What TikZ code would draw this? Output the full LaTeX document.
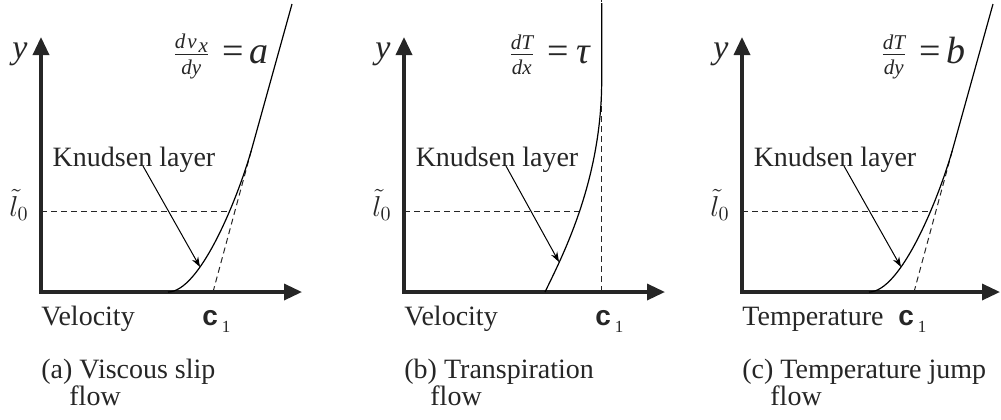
\documentclass[tikz,border=0pt]{standalone}
\usepackage{amsmath}
\usepackage{fontspec}
\setmainfont{Liberation Serif}
\newfontfamily\sansb{Liberation Sans}
\usetikzlibrary{arrows.meta,positioning}
\colorlet{tinta}{black!85}
\newcommand{\grad}[4]{$\genfrac{}{}{0.5pt}{}{\hbox{\fontsize{10.5}{10.5}\selectfont\itshape #1}}{\hbox{\fontsize{10.5}{10.5}\selectfont\itshape #2}}$\hspace{6pt}=\hspace{#4}\textit{#3}}
\newcommand{\cuno}{{\sansb\bfseries c}\hspace{2pt}\raisebox{-3.5pt}{\fontsize{8.5}{8.5}\selectfont 1}}

\begin{document}
\begin{tikzpicture}[x=0.5pt, y=-0.5pt,
      eje/.style={line width=1.7pt, draw=tinta, {Triangle[length=9pt,width=8pt]}-{Triangle[length=9pt,width=8pt]}},
      perfil/.style={line width=0.6pt, draw=black},
      guia/.style={line width=0.5pt, draw=tinta, dash pattern=on 3pt off 2pt},
      flecha/.style={line width=0.5pt, draw=black, -{Stealth[length=5pt,width=3.5pt]}},
      etiq/.style={inner sep=0pt, text=tinta, font=\fontsize{14}{13.5}\selectfont},
      eje lbl/.style={inner sep=0pt, text=tinta, font=\fontsize{17}{17}\selectfont\itshape},
      formula/.style={inner sep=0pt, text=tinta, anchor=base west, font=\fontsize{19}{19}\selectfont},
      pie/.style={etiq, align=left, anchor=base west}]
    \useasboundingbox (0,0) rectangle (1001,419);

    % (a) viscous slip
    \begin{scope}
      \coordinate (o1) at (41,292);
      \coordinate (ya1) at (41,37);
      \coordinate (xa1) at (302,292);
      \draw[eje] (ya1) -- (o1) -- (xa1);
      \coordinate (s1) at (168,292);
      \coordinate (j1) at (252,148);
      \coordinate (t1) at (292,4);
      \coordinate (c1) at (213,292);
      \coordinate (h1) at (41,211);
      \coordinate (q1) at (230,211);
      \draw[guia] (h1) -- (q1);
      \draw[guia] (c1) -- (j1);
      \draw[perfil] (s1) .. controls (200,292) and (238,198) .. (j1) -- (t1);
      \node[eje lbl, anchor=base] (yl1) at (20,58) {y};
      \node[etiq, anchor=base, font=\fontsize{14}{14}\selectfont] (lo1) at (19,216) {$\tilde{l}_0$};
      \node[formula] (fr1) at (172,63) {\grad{d\kern1pt v\kern1pt\raisebox{-2pt}{x}}{dy}{a}{3pt}};
      \node[etiq, anchor=base] (kn1) at (134,166) {Knudsen layer};
      \coordinate (p1) at (200,267);
      \draw[flecha] ([xshift=4.5pt]kn1.base) -- (p1);
      \node[etiq, anchor=base west] (vel1) at (41,325) {Velocity};
      \node[etiq, anchor=base west] (cu1) at (202,325) {\cuno};
      \node[pie] (cap1) at (41,405) {(a) Viscous slip\\\hspace*{14pt}flow};
    \end{scope}

    % (b) transpiration
    \begin{scope}[xshift=181.5pt]
      \coordinate (o2) at (41,292);
      \coordinate (ya2) at (41,37);
      \coordinate (xa2) at (302,292);
      \draw[eje] (ya2) -- (o2) -- (xa2);
      \coordinate (s2) at (182,292);
      \coordinate (j2) at (238.7,80);
      \coordinate (t2) at (238.7,3);
      \coordinate (v2) at (238.7,292);
      \coordinate (w2) at (238.7,0);
      \coordinate (h2) at (41,211);
      \coordinate (q2) at (216,211);
      \draw[guia] (h2) -- (q2);
      \draw[guia] (v2) -- (w2);
      \draw[perfil] (s2) .. controls (200,255) and (238.7,180) .. (j2) -- (t2);
      \node[eje lbl, anchor=base] (yl2) at (20,58) {y};
      \node[etiq, anchor=base, font=\fontsize{14}{14}\selectfont] (lo2) at (19,216) {$\tilde{l}_0$};
      \node[formula] (fr2) at (145,63) {\grad{dT}{dx}{τ}{4pt}};
      \node[etiq, anchor=base] (kn2) at (134,166) {Knudsen layer};
      \coordinate (p2) at (196,262);
      \draw[flecha] ([xshift=4.5pt]kn2.base) -- (p2);
      \node[etiq, anchor=base west] (vel2) at (41,325) {Velocity};
      \node[etiq, anchor=base west] (cu2) at (232,325) {\cuno};
      \node[pie] (cap2) at (41,405) {(b) Transpiration\\\hspace*{13pt}flow};
    \end{scope}

    % (c) temperature jump
    \begin{scope}[xshift=350.5pt]
      \coordinate (o3) at (41,292);
      \coordinate (ya3) at (41,37);
      \coordinate (xa3) at (299,292);
      \draw[eje] (ya3) -- (o3) -- (xa3);
      \coordinate (s3) at (168,292);
      \coordinate (j3) at (252,148);
      \coordinate (t3) at (292,4);
      \coordinate (c3) at (213,292);
      \coordinate (h3) at (41,211);
      \coordinate (q3) at (230,211);
      \draw[guia] (h3) -- (q3);
      \draw[guia] (c3) -- (j3);
      \draw[perfil] (s3) .. controls (200,292) and (238,198) .. (j3) -- (t3);
      \node[eje lbl, anchor=base] (yl3) at (20,58) {y};
      \node[etiq, anchor=base, font=\fontsize{14}{14}\selectfont] (lo3) at (19,216) {$\tilde{l}_0$};
      \node[formula] (fr3) at (179,63) {\grad{dT}{dy}{b}{3pt}};
      \node[etiq, anchor=base] (kn3) at (134,166) {Knudsen layer};
      \coordinate (p3) at (200,267);
      \draw[flecha] ([xshift=4.5pt]kn3.base) -- (p3);
      \node[etiq, anchor=base west] (vel3) at (41,325) {Temperature};
      \node[etiq, anchor=base west] (cu3) at (197,325) {\cuno};
      \node[pie] (cap3) at (41,405) {(c) Temperature jump\\\hspace*{14pt}flow};
    \end{scope}
  \end{tikzpicture}
\end{document}
